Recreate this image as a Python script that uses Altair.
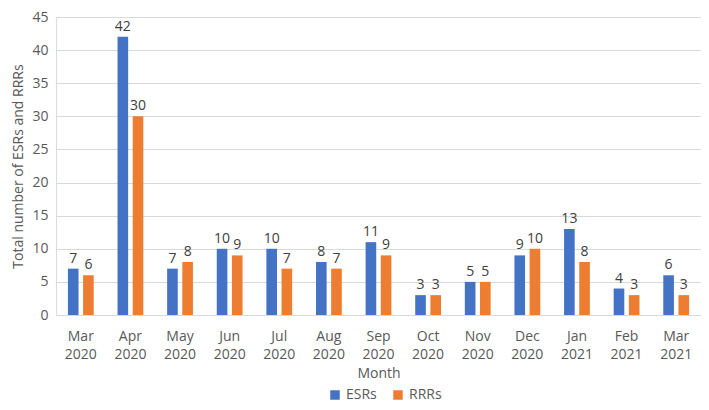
import altair as alt
import pandas as pd

months = ["Mar 2020", "Apr 2020", "May 2020", "Jun 2020", "Jul 2020", "Aug 2020",
          "Sep 2020", "Oct 2020", "Nov 2020", "Dec 2020", "Jan 2021", "Feb 2021", "Mar 2021"]
esrs = [7, 42, 7, 10, 10, 8, 11, 3, 5, 9, 13, 4, 6]
rrrs = [6, 30, 8, 9, 7, 7, 9, 3, 5, 10, 8, 3, 3]
series = ["ESRs", "RRRs"]
colors = ["#4472C4", "#ED7D31"]

rows = []
for i, m in enumerate(months):
    rows.append({"Month": m, "Series": "ESRs", "Value": esrs[i]})
    rows.append({"Month": m, "Series": "RRRs", "Value": rrrs[i]})
df = pd.DataFrame(rows)

FONT = "Open Sans"
GRAY = "#595959"

x = alt.X("Month:N", sort=months,
          scale=alt.Scale(paddingInner=0.48, paddingOuter=0.24),
          axis=alt.Axis(title="Month", labelAngle=0, labelExpr="split(datum.label, ' ')",
                        labelFontSize=14, labelColor=GRAY, labelFont=FONT, labelPadding=14,
                        labelLineHeight=18,
                        titleFontSize=14, titleColor=GRAY, titleFont=FONT, titleFontWeight="normal",
                        titlePadding=5,
                        ticks=False, domainColor="#D9D9D9", grid=False))
xo = alt.XOffset("Series:N", sort=series, scale=alt.Scale(paddingInner=0.3))
y = alt.Y("Value:Q", scale=alt.Scale(domain=[0, 45]),
          axis=alt.Axis(title="Total number of ESRs and RRRs", values=list(range(0, 50, 5)),
                        labelFontSize=14, labelColor=GRAY, labelFont=FONT, labelPadding=8,
                        titleFontSize=14, titleColor=GRAY, titleFont=FONT, titleFontWeight="normal",
                        titlePadding=6,
                        ticks=False, domain=False, gridColor="#D9D9D9"))
color = alt.Color("Series:N", sort=series, scale=alt.Scale(domain=series, range=colors),
                  legend=alt.Legend(title=None, orient="none", legendX=272, legendY=371,
                                    direction="horizontal",
                                    symbolType="square", symbolSize=90, labelFontSize=14,
                                    labelColor=GRAY, labelFont=FONT, columnPadding=14,
                                    symbolStrokeWidth=0))

base = alt.Chart(df).encode(x=x, xOffset=xo, y=y)
bars = base.mark_bar().encode(color=color)
labels = base.mark_text(dy=-10, fontSize=14, font=FONT, color="#404040").encode(text="Value:Q")

chart = (bars + labels).properties(
    width=645, height=298,
    autosize=alt.AutoSizeParams(type="none"),
    padding={"left": 48, "top": 9, "right": 0, "bottom": 91},
).configure_view(stroke=None).configure(background="white")

chart.save("out.html", embed_options={"renderer": "svg", "actions": False})
